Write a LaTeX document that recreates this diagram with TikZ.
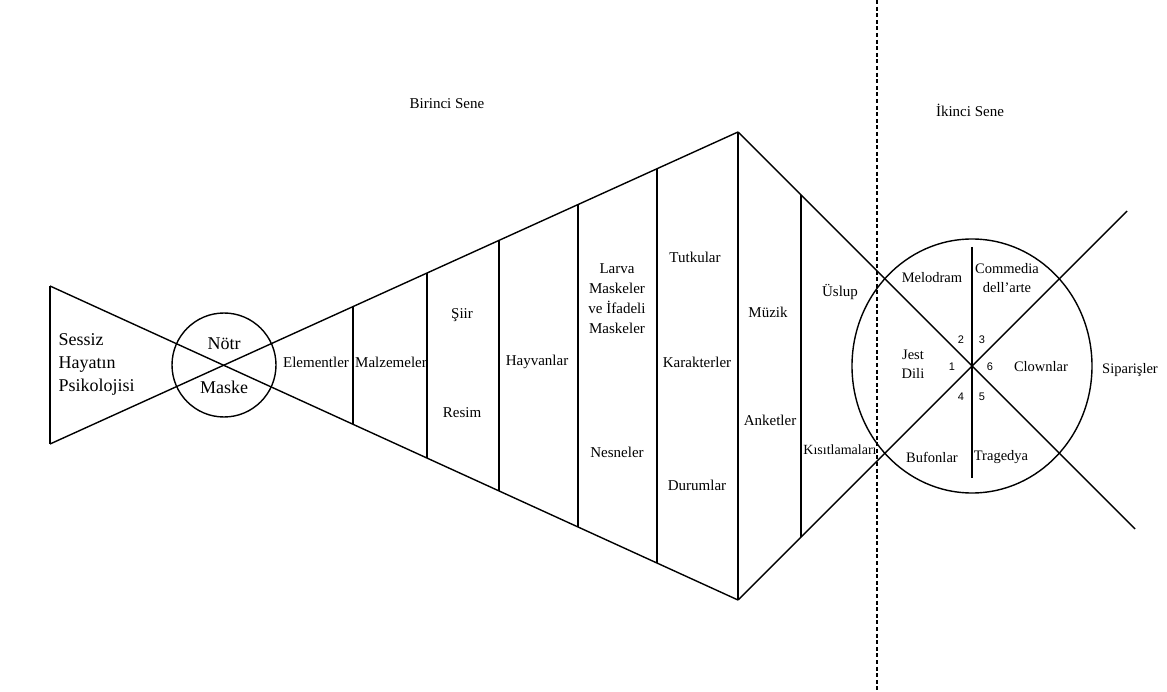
\documentclass[tikz,border=0pt]{standalone}
\usepackage{fontspec}
\setmainfont{Liberation Serif}
\newfontfamily\numfont{Liberation Sans}
\begin{document}
\begin{tikzpicture}[x=1pt,y=-1pt,
  line width=1.4pt, line join=miter,
  lbl/.style={font=\fontsize{15}{20}\selectfont, align=center, inner sep=0pt},
  biglbl/.style={font=\fontsize{18}{23}\selectfont, align=left, inner sep=0pt},
  ringlbl/.style={font=\fontsize{14.5}{19}\selectfont, align=center, inner sep=0pt},
  numlbl/.style={font=\numfont\fontsize{11}{12}\selectfont, inner sep=0pt},
  sceneline/.style={line width=1.6pt, dash pattern=on 4pt off 2.6pt}]
\useasboundingbox (0,0) rectangle (1167,692);

% main vertices
\coordinate (LT) at (50,286);
\coordinate (LB) at (50,444);
\coordinate (C)  at (224,365);
\coordinate (T)  at (738,132);
\coordinate (B)  at (738,600);
\coordinate (K)  at (972,366);
\coordinate (RU) at (1127,211);
\coordinate (RD) at (1135,529);

% outline: bow-tie, fan and the crossing lines
\draw (LT) -- (LB);
\draw (LT) -- (B);
\draw (LB) -- (T);
\draw (T) -- (B);
\draw (T) -- (RD);
\draw (B) -- (RU);

% circles
\draw (C) circle[radius=52pt];
\draw (K) ellipse[x radius=120pt, y radius=127pt];
\draw (972,247) -- (972,478);

% fan dividers
\draw (353,306.5) -- (353,424);
\draw (427,273) -- (427,457.8);
\draw (499,240.3) -- (499,490.7);
\draw (578,204.5) -- (578,526.8);
\draw (657,168.7) -- (657,563);
\draw (801,195) -- (801,537);

% year boundary
\draw[sceneline] (877,0) -- (877,692);

% headings
\node[lbl] (birinci) at (447,104) {Birinci Sene};
\node[lbl] (ikinci) at (970,110) {İkinci Sene};

% left part
\node[biglbl, anchor=west] (sessiz) at (58,364) {Sessiz\\Hayatın\\Psikolojisi};
\node[biglbl] (notr) at (224,344) {Nötr};
\node[biglbl] (maske) at (224,387) {Maske};

% fan labels
\node[lbl] (element) at (316,362) {Elementler};
\node[lbl] (malzeme) at (391,362) {Malzemeler};
\node[lbl] (siir) at (462,315) {Şiir};
\node[lbl] (resim) at (462,413) {Resim};
\node[lbl] (hayvan) at (537,362) {Hayvanlar};
\node[lbl] (larva) at (617,299) {Larva\\Maskeler\\ve İfadeli\\Maskeler};
\node[lbl] (nesne) at (617,452) {Nesneler};
\node[lbl] (tutku) at (695,257) {Tutkular};
\node[lbl] (karakter) at (697,362) {Karakterler};
\node[lbl] (durum) at (697,485) {Durumlar};
\node[lbl] (muzik) at (768,312) {Müzik};
\node[lbl] (anket) at (770,420) {Anketler};
\node[lbl] (uslup) at (840,292) {Üslup};
\node[lbl, font=\fontsize{14}{18}\selectfont] (kisit) at (840,450) {Kısıtlamaları};

% circle labels
\node[ringlbl] (melodram) at (932,278) {Melodram};
\node[ringlbl] (commedia) at (1007,278) {Commedia\\dell'arte};
\node[ringlbl] (jest) at (913,364) {Jest\\Dili};
\node[ringlbl] (clown) at (1041,367) {Clownlar};
\node[ringlbl] (bufon) at (932,457) {Bufonlar};
\node[ringlbl] (trag) at (1001,457) {Tragedya};
\node[ringlbl] (sipar) at (1130,370) {Siparişler};

\node[numlbl] (n2) at (961,340) {2};
\node[numlbl] (n3) at (982,340) {3};
\node[numlbl] (n1) at (952,367) {1};
\node[numlbl] (n6) at (990,367) {6};
\node[numlbl] (n4) at (961,397) {4};
\node[numlbl] (n5) at (982,397) {5};
\end{tikzpicture}
\end{document}
